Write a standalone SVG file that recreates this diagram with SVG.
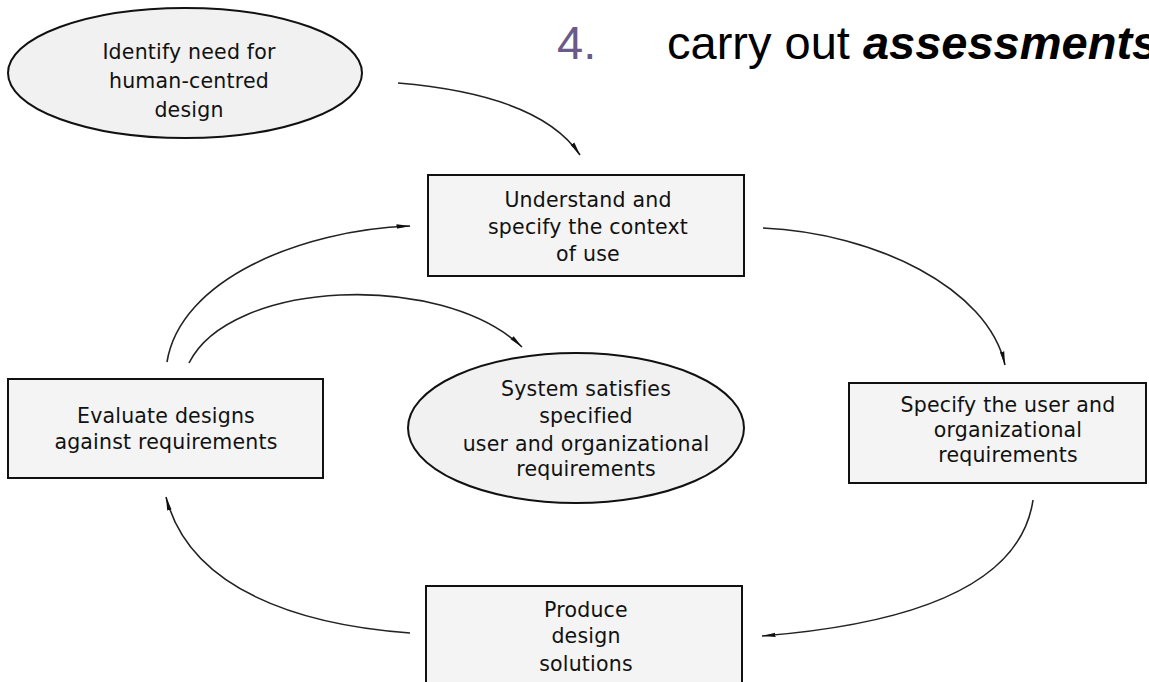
<svg xmlns="http://www.w3.org/2000/svg" width="1149" height="682" viewBox="0 0 1149 682">
  <style>
    .box { fill: #f4f4f4; stroke: #111; stroke-width: 2; }
    .oval { fill: #f1f1f1; stroke: #111; stroke-width: 2; }
    .lbl { font-family: "DejaVu Sans", "Liberation Sans", sans-serif; font-size: 20.5px; fill: #111; text-anchor: middle; letter-spacing: 0.2px; }
    .conn { fill: none; stroke: #222; stroke-width: 1.6; marker-end: url(#arr); }
    .head { font-family: "Liberation Sans", Arial, sans-serif; font-size: 47px; }
  </style>
  <defs>
    <marker id="arr" viewBox="0 0 14 6" refX="13.5" refY="3" markerWidth="14" markerHeight="6" markerUnits="userSpaceOnUse" orient="auto">
      <path d="M0,0.8 L14,3 L0,5.2 Z" fill="#111"/>
    </marker>
  </defs>

  <rect width="1149" height="682" fill="#ffffff"/>

  <!-- heading -->
  <text class="head" x="557" y="59"><tspan fill="#6a5a8a">4.</tspan><tspan x="667" fill="#000">carry out </tspan><tspan font-weight="bold" font-style="italic" fill="#000">assessments</tspan></text>

  <!-- connectors -->
  <g id="connectors">
    <path class="conn" d="M398,83 Q540,95 580,155"/>
    <path class="conn" d="M763,228 C875,233 988,288 1005,365"/>
    <path class="conn" d="M1033,500 C1020,590 900,625 762,636"/>
    <path class="conn" d="M410,633 C300,625 190,590 166,497"/>
    <path class="conn" d="M167,362 C180,280 300,230 410,226"/>
    <path class="conn" d="M189,363 C230,280 440,270 522,347"/>
  </g>

  <!-- nodes -->
  <g id="n-identify">
    <ellipse class="oval" cx="185" cy="73" rx="177" ry="65"/>
    <text class="lbl" x="189" y="59">Identify need for</text>
    <text class="lbl" x="189" y="88">human-centred</text>
    <text class="lbl" x="189" y="117">design</text>
  </g>

  <g id="n-context">
    <rect class="box" x="428" y="175" width="316" height="101"/>
    <text class="lbl" x="588" y="207">Understand and</text>
    <text class="lbl" x="588" y="234">specify the context</text>
    <text class="lbl" x="588" y="261">of use</text>
  </g>

  <g id="n-evaluate">
    <rect class="box" x="8" y="379" width="315" height="99"/>
    <text class="lbl" x="166" y="423">Evaluate designs</text>
    <text class="lbl" x="166" y="449">against requirements</text>
  </g>

  <g id="n-satisfied">
    <ellipse class="oval" cx="576" cy="428" rx="168" ry="75"/>
    <text class="lbl" x="586" y="396">System satisfies</text>
    <text class="lbl" x="586" y="423">specified</text>
    <text class="lbl" x="586" y="451">user and organizational</text>
    <text class="lbl" x="586" y="476">requirements</text>
  </g>

  <g id="n-specify">
    <rect class="box" x="849" y="383" width="297" height="100"/>
    <text class="lbl" x="1008" y="412">Specify the user and</text>
    <text class="lbl" x="1008" y="437">organizational</text>
    <text class="lbl" x="1008" y="462">requirements</text>
  </g>

  <g id="n-produce">
    <rect class="box" x="426" y="586" width="316" height="110"/>
    <text class="lbl" x="586" y="617">Produce</text>
    <text class="lbl" x="586" y="643">design</text>
    <text class="lbl" x="586" y="671">solutions</text>
  </g>
</svg>
